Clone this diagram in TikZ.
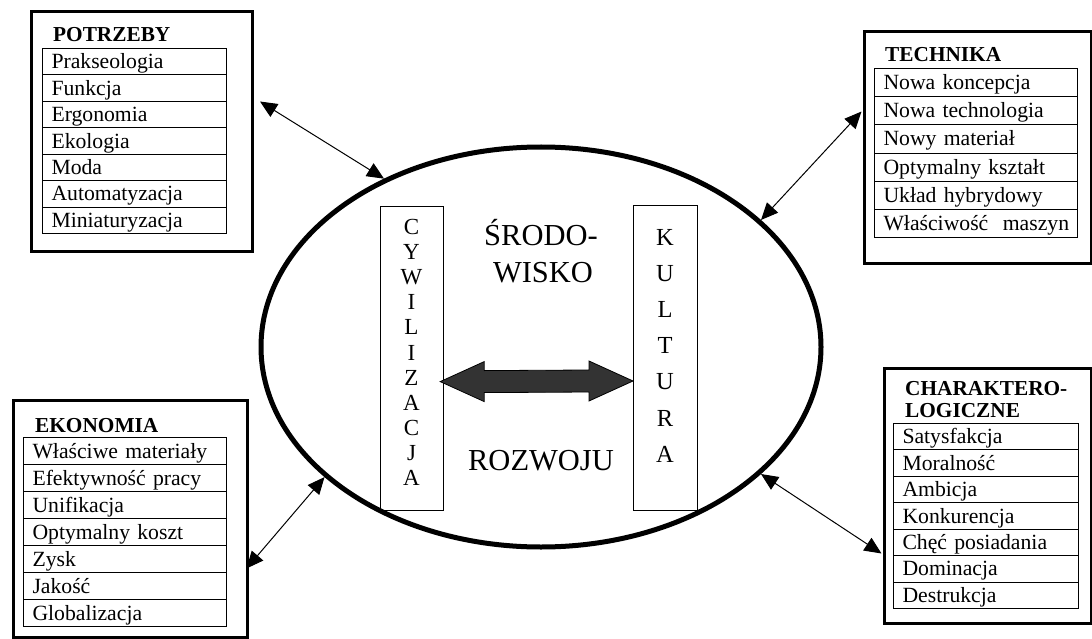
\documentclass[tikz,border=0pt]{standalone}
\usepackage{fontspec}
\setmainfont{Liberation Serif}
\usetikzlibrary{calc,arrows.meta,shapes.geometric}
\definecolor{arrowgray}{HTML}{333333}
\begin{document}
\begin{tikzpicture}[x=1pt,y=-1pt,
  outerbox/.style={draw, line width=3pt, anchor=north west, inner sep=0pt},
  listrow/.style={draw, line width=1pt, anchor=north west, inner xsep=9pt, inner ysep=0pt,
    align=left, text height=17pt, text depth=3pt, font=\fontsize{21.7}{25}\selectfont},
  boxtitle/.style={anchor=base west, inner sep=0pt, font=\bfseries\fontsize{21.3}{25}\selectfont},
  midtext/.style={anchor=base, inner sep=0pt, font=\fontsize{30.5}{36}\selectfont},
  vletter/.style={anchor=base, inner sep=0pt, font=\fontsize{23}{25}\selectfont},
  kletter/.style={anchor=base, inner sep=0pt, font=\fontsize{24.5}{25}\selectfont},
  vbox/.style={draw, line width=1.2pt, anchor=north west, inner sep=0pt},
  link/.style={line width=1pt, <->, >={Triangle[length=17pt,width=15pt]}},
]
\fill[white] (0,0) rectangle (1092,639);
\useasboundingbox (0,0) rectangle (1092,639);

% central ellipse
\node[draw, ellipse, line width=5pt, minimum width=560pt, minimum height=400pt, inner sep=0pt] (ell) at (541,347) {};

% outer boxes
\node[outerbox, minimum width=221pt, minimum height=240pt] (potrzeby) at (30,10) {};
\node[outerbox, minimum width=227pt, minimum height=232pt] (technika) at (863,30) {};
\node[outerbox, minimum width=234pt, minimum height=237pt] (ekonomia) at (12,399) {};
\node[outerbox, minimum width=207pt, minimum height=255pt] (charakt) at (883,367) {};

% titles
\node[boxtitle] (potrzeby-t) at (53,42) {POTRZEBY};
\node[boxtitle] (technika-t) at (885,62) {TECHNIKA};
\node[boxtitle] (ekonomia-t) at (35,432) {EKONOMIA};
\node[boxtitle] (charakt-t1) at (905,395) {CHARAKTERO-};
\node[boxtitle] (charakt-t2) at (905,417) {LOGICZNE};

% list rows
\foreach \t [count=\i] in {Prakseologia,Funkcja,Ergonomia,Ekologia,Moda,Automatyzacja,Miniaturyzacja}
  \node[listrow, minimum width=184pt, text width=166pt, minimum height=26.43pt] (p\i) at (42,{48+(\i-1)*26.43}) {\mbox{\t}};
\foreach \t [count=\i] in {Nowa koncepcja,Nowa technologia,Nowy materiał,Optymalny kształt,Układ hybrydowy,Właściwość\ \ maszyn}
  \node[listrow, minimum width=203pt, text width=185pt, minimum height=28.17pt] (t\i) at (874,{68+(\i-1)*28.17}) {\mbox{\t}};
\foreach \t [count=\i] in {Właściwe materiały,Efektywność pracy,Unifikacja,Optymalny koszt,Zysk,Jakość,Globalizacja}
  \node[listrow, minimum width=203pt, text width=185pt, minimum height=27pt] (e\i) at (23,{437+(\i-1)*27}) {\mbox{\t}};
\foreach \t [count=\i] in {Satysfakcja,Moralność,Ambicja,Konkurencja,Chęć posiadania,Dominacja,Destrukcja}
  \node[listrow, minimum width=185pt, text width=167pt, minimum height=26.43pt] (c\i) at (893,{423+(\i-1)*26.43}) {\mbox{\t}};

% vertical boxes
\node[vbox, minimum width=63pt, minimum height=304pt] (cyw) at (380,206) {};
\node[vbox, minimum width=64pt, minimum height=305pt] (kul) at (633,205) {};
\foreach \l [count=\i] in {C,Y,W,I,L,I,Z,A,C,J,A}
  \node[vletter] (cywl\i) at (411.5,{234.5+(\i-1)*25.1}) {\l};
\foreach \l [count=\i] in {K,U,L,T,U,R,A}
  \node[kletter] (kull\i) at (665,{245+(\i-1)*36.2}) {\l};

% middle texts
\node[midtext] (srodo) at (541,245) {ŚRODO-};
\node[midtext] (wisko) at (543,282) {WISKO};
\node[midtext] (rozwoju) at (541,470) {ROZWOJU};

% big double arrow between CYWILIZACJA and KULTURA
\coordinate (aL) at ($(cyw.north east)+(-4,175.6)$);
\coordinate (aR) at ($(kul.north west)+(0,176)$);
\filldraw[fill=arrowgray, draw=black, line width=0.8pt]
  (aL) -- ++(44,-20) -- ++(0,9) -- ($(aR)+(-44,-11)$) -- ++(0,-9) -- (aR)
  -- ++(-44,20) -- ++(0,-9) -- ($(aL)+(44,11)$) -- ++(0,9) -- cycle;

% connectors
\draw[link] ($(potrzeby.north east)+(6,91.5)$) -- (ell.133);
\draw[link] ($(technika.north west)+(-1.5,81.5)$) -- (ell.30);
\draw[link] ($(ekonomia.north east)+(-2.5,169.5)$) -- (ell.211);
\draw[link] ($(charakt.north west)+(-1.5,186.5)$) -- (ell.330);
\end{tikzpicture}
\end{document}
